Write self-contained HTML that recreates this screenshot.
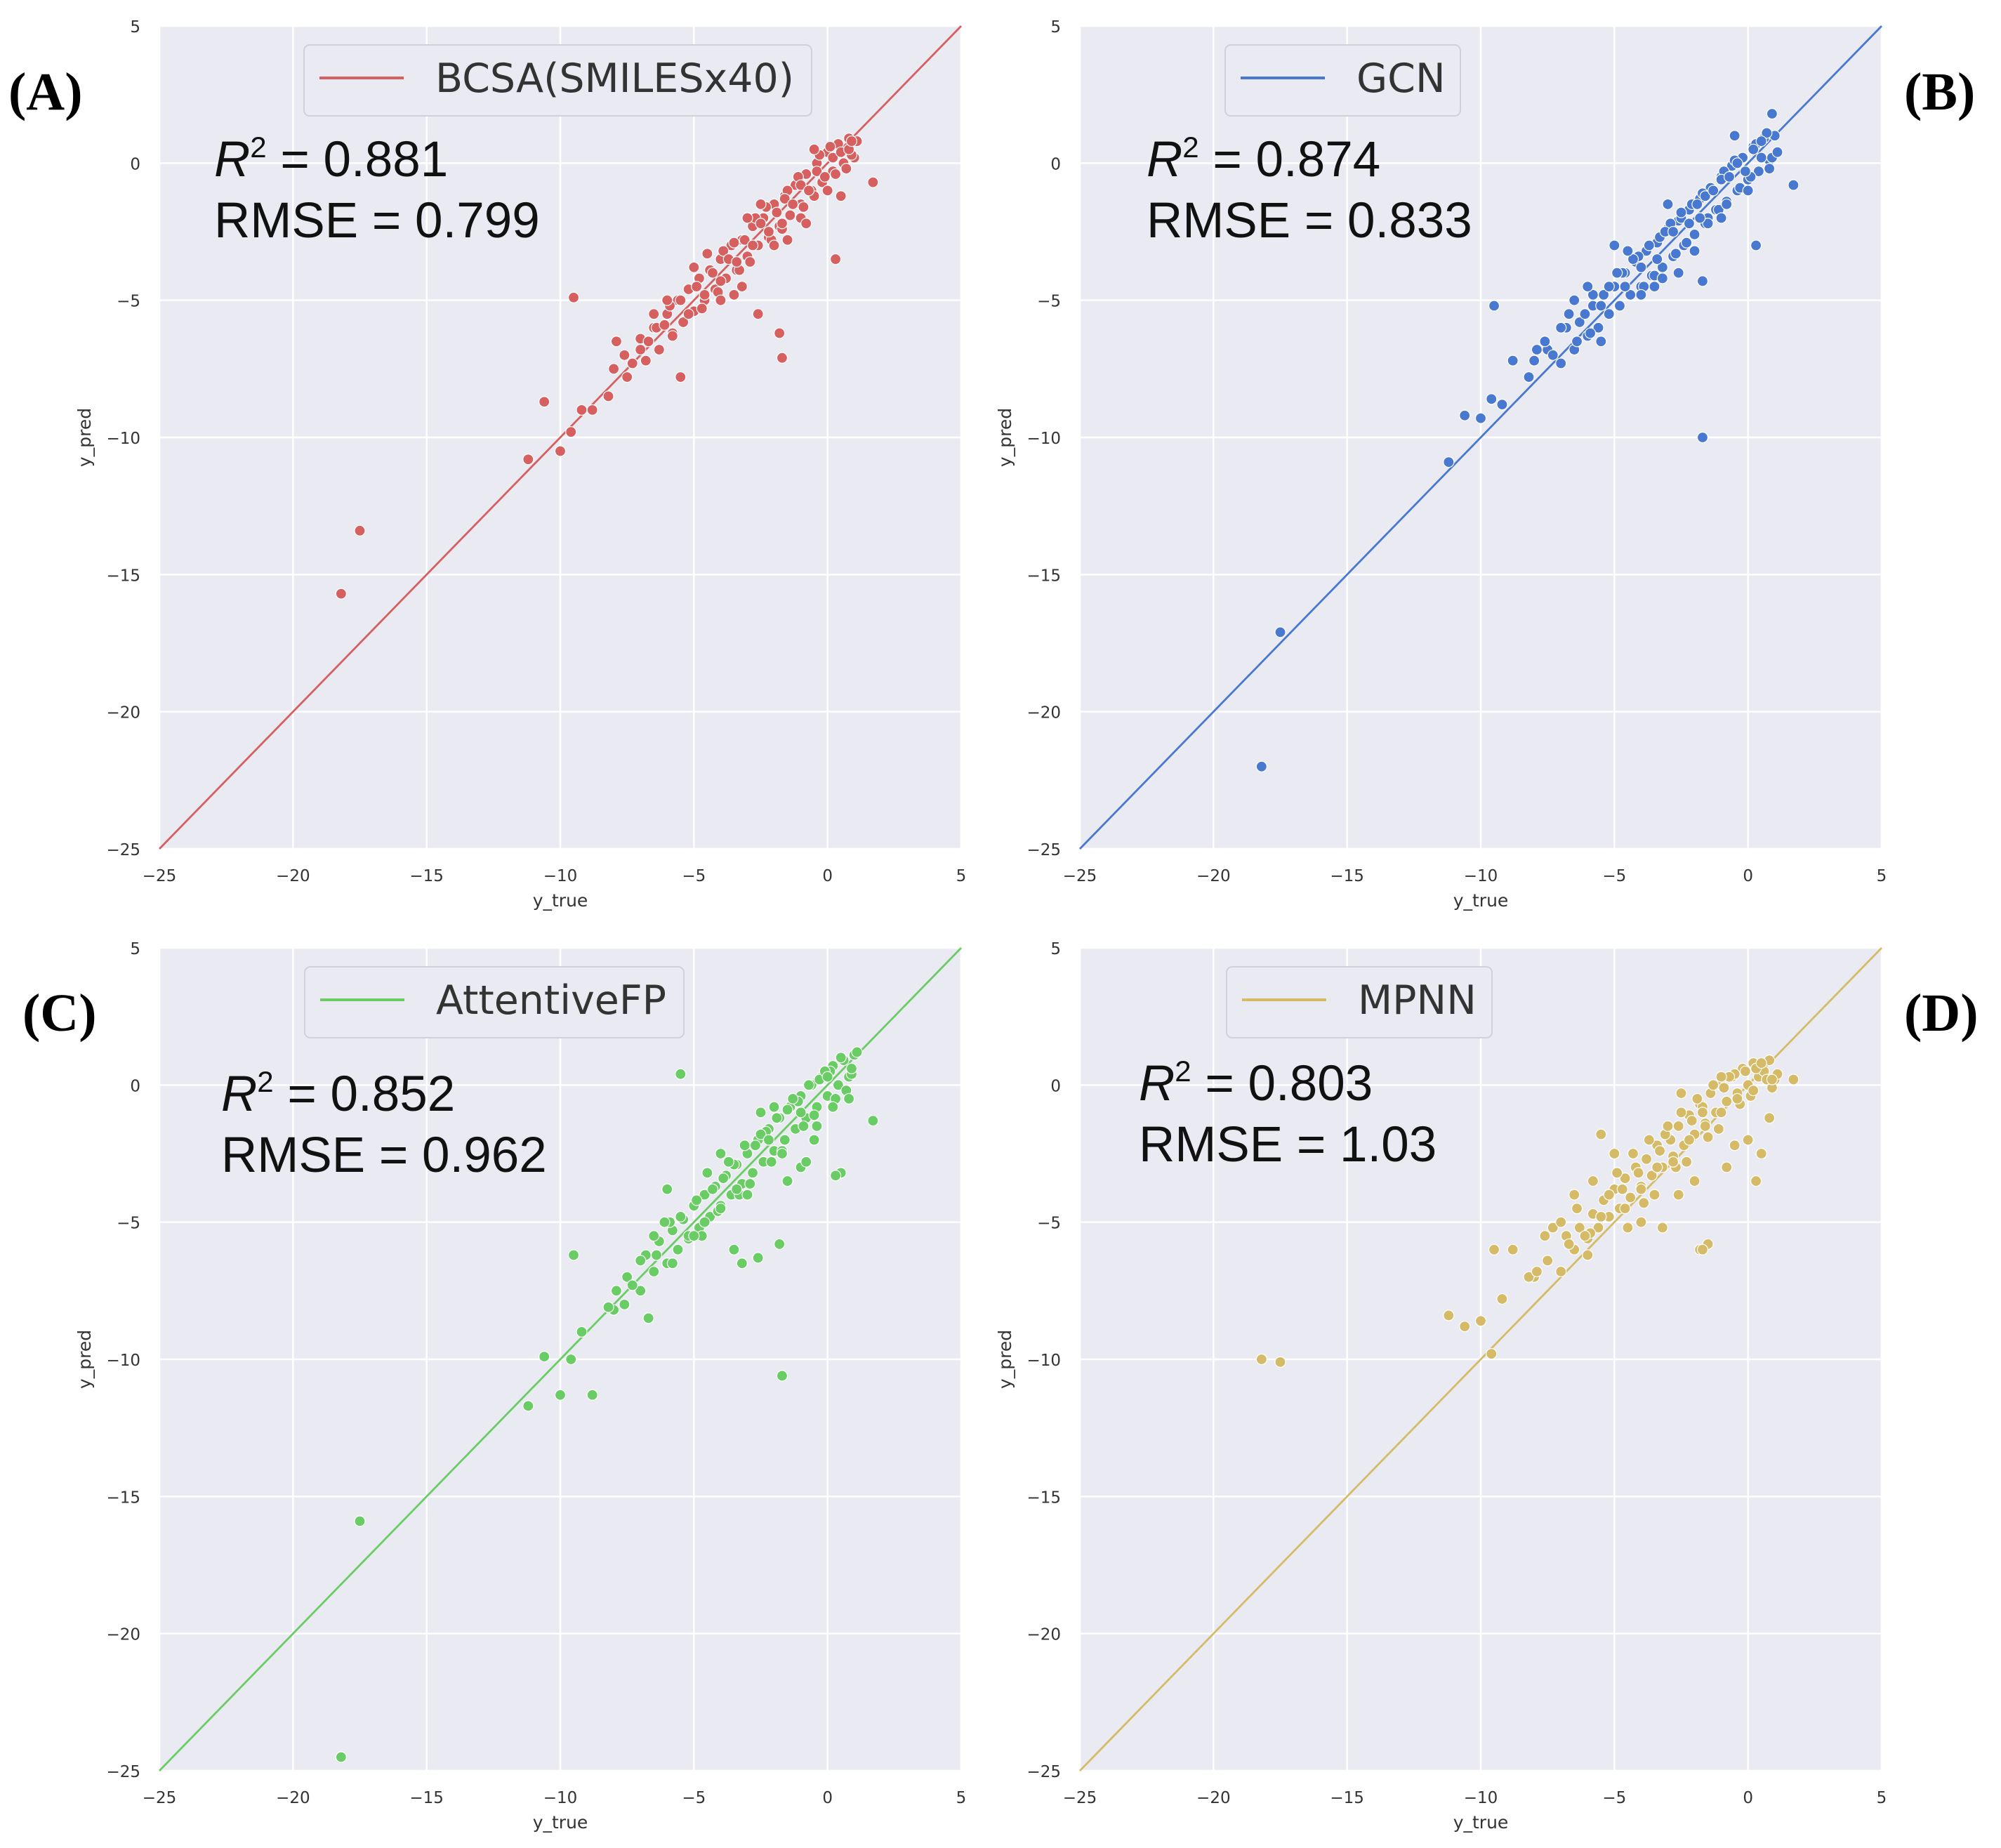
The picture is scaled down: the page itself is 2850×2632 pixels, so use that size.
<!DOCTYPE html>
<html><head><meta charset="utf-8">
<style>html,body{margin:0;padding:0;background:#fff}svg{display:block}</style>
</head><body>
<svg id="fig" xmlns="http://www.w3.org/2000/svg" width="2850" height="2632" viewBox="0 0 2850 2632"></svg>
<script>
const trueVals=[-11.2,-10.6,-10.0,-9.6,-9.2,-8.8,-8.2,-7.9,-7.6,-7.3,-7.0,-6.7,-6.4,-6.1,-5.8,-5.5,-5.2,-4.9,-4.6,-4.3,-4.0,-3.7,-3.4,-3.1,-2.8,-2.5,-2.2,-1.9,-1.6,-1.3,-1.0,-0.7,-0.4,-0.1,0.2,0.5,0.8,1.1,1.7,-6.0,-5.0,-4.0,-3.0,-2.0,-1.0,0.0,-5.5,-4.5,-3.5,-2.5,-1.5,-0.5,0.5,-6.5,-3.2,-2.6,-1.8,-0.8,0.3,-9.5,-1.7,0.9,-18.2,-17.5,-1.7];
const predA=[-10.8,-8.7,-10.5,-9.8,-9.0,-9.0,-8.5,-6.5,-7.0,-7.3,-6.8,-6.5,-6.0,-5.9,-6.3,-5.0,-5.5,-4.5,-4.8,-4.0,-4.3,-3.5,-3.6,-2.8,-3.0,-2.2,-2.5,-1.8,-1.3,-1.5,-0.8,-1.0,-0.3,-0.5,0.2,0.4,0.5,0.8,-0.7,-5.0,-3.8,-5.0,-2.0,-3.0,-2.0,-1.0,-7.8,-3.3,-4.8,-1.5,-2.8,0.5,-1.2,-5.5,-4.5,-5.5,-6.2,-2.2,-3.5,-4.9,-7.1,0.8,-15.7,-13.4,-2.2];
const predB=[-10.9,-9.2,-9.3,-8.6,-8.8,-7.2,-7.8,-6.8,-6.5,-7.0,-6.0,-5.5,-6.5,-5.5,-4.8,-5.2,-4.5,-4.0,-4.5,-3.5,-3.8,-3.0,-3.5,-2.5,-2.5,-2.0,-2.2,-1.5,-1.2,-1.0,-0.6,-0.5,0.0,-0.3,0.5,0.2,-0.2,0.4,-0.8,-4.5,-3.0,-4.8,-1.5,-3.2,-2.0,-1.0,-6.5,-3.2,-4.5,-1.8,-2.2,1.0,0.8,-5.0,-4.2,-4.0,-2.0,-1.5,-3.0,-5.2,-10.0,1.8,-22.0,-17.1,-4.3];
const predC=[-11.7,-9.9,-11.3,-10.0,-9.0,-11.3,-8.1,-7.5,-8.0,-7.3,-6.4,-8.5,-6.2,-5.0,-6.5,-4.8,-5.5,-4.2,-5.0,-3.8,-4.5,-2.8,-3.8,-2.2,-3.2,-1.8,-2.0,-1.2,-2.0,-0.5,-1.0,0.0,-1.5,0.5,-0.8,1.0,-0.5,1.2,-1.3,-3.8,-5.5,-2.5,-4.0,-0.8,-3.0,0.3,0.4,-3.2,-6.0,-1.0,-3.5,-2.0,-3.2,-5.5,-6.5,-6.3,-5.8,-2.8,-3.3,-6.2,-10.6,0.6,-24.5,-15.9,-2.5];
const predD=[-8.4,-8.8,-8.6,-9.8,-7.8,-6.0,-7.0,-6.8,-5.5,-5.2,-5.0,-5.8,-4.5,-5.5,-3.5,-4.8,-4.0,-3.2,-4.5,-2.5,-3.8,-2.0,-3.0,-1.8,-2.8,-1.0,-2.0,-0.5,-1.5,0.0,-1.0,0.3,-0.5,0.5,-0.2,0.8,-1.2,0.4,0.2,-6.2,-2.5,-5.0,-1.5,-3.5,0.3,-2.0,-1.8,-5.2,-4.0,-0.3,-5.8,-2.2,-2.5,-4.0,-5.2,-4.0,-6.0,-3.0,-3.5,-6.0,-6.0,0.2,-10.0,-10.1,-1.0];
const trueVals2=[-8.0,-7.5,-7.0,-6.8,-6.5,-6.3,-6.0,-5.8,-5.6,-5.4,-5.2,-5.0,-4.8,-4.6,-4.4,-4.2,-4.0,-3.8,-3.6,-3.4,-3.2,-3.0,-2.8,-2.6,-2.4,-2.2,-2.0,-1.8,-1.6,-1.4,-1.2,-1.0,-0.8,-0.6,-0.4,-0.2,0.0,0.2,0.4,0.6,0.8,1.0,-5.9,-4.7,-3.9,-3.3,-2.7,-2.1,-1.5,-0.9,-0.3,0.3,0.9,-4.1,-3.5,-2.9,-2.3,-1.7,-1.1,-0.5,0.1,0.7];
const predA2=[-7.5,-7.8,-6.4,-7.2,-6.0,-6.8,-5.5,-6.2,-5.0,-5.8,-4.6,-5.4,-4.2,-5.0,-3.9,-4.6,-3.5,-4.2,-3.0,-3.9,-2.8,-3.4,-2.3,-3.0,-2.0,-2.7,-1.5,-2.3,-1.2,-1.9,-0.8,-1.5,-0.4,-1.0,0.0,-0.7,0.4,-0.3,0.7,0.0,0.9,0.2,-5.2,-5.3,-3.2,-3.9,-2.0,-2.8,-1.0,-1.6,0.3,-0.4,0.3,-4.7,-2.9,-3.6,-1.6,-2.4,-0.5,-1.2,0.6,-0.2];
const predB2=[-7.2,-6.8,-7.3,-6.0,-6.8,-5.8,-6.3,-5.2,-6.0,-4.8,-5.5,-4.5,-5.2,-4.0,-4.8,-3.6,-4.5,-3.2,-4.1,-2.9,-3.8,-2.4,-3.4,-2.1,-3.0,-1.7,-2.6,-1.3,-2.2,-0.9,-1.7,-0.5,-1.4,-0.1,-1.0,0.2,-0.6,0.6,-0.3,0.9,0.1,1.0,-6.2,-4.0,-4.5,-2.7,-3.3,-1.5,-2.0,-0.3,-0.9,0.7,0.2,-3.4,-4.1,-2.2,-2.9,-1.1,-1.7,0.1,-0.5,1.1];
const predC2=[-8.2,-7.0,-7.5,-6.2,-6.8,-5.7,-6.5,-5.3,-6.0,-4.9,-5.6,-4.4,-5.2,-4.0,-4.8,-3.7,-4.4,-3.3,-4.0,-2.9,-3.6,-2.5,-3.2,-2.0,-2.8,-1.6,-2.4,-1.2,-2.0,-0.8,-1.6,-0.4,-1.2,0.0,-0.8,0.3,-0.4,0.7,0.0,0.9,0.3,1.1,-5.0,-5.5,-3.4,-4.0,-2.2,-2.8,-0.9,-1.5,0.2,-0.5,0.4,-4.6,-2.9,-3.6,-1.7,-2.4,-0.6,-1.1,0.5,-0.2];
const predD2=[-7.0,-6.4,-6.8,-5.5,-6.0,-5.2,-5.6,-4.7,-5.2,-4.2,-4.8,-3.8,-4.5,-3.4,-4.1,-3.0,-3.7,-2.7,-3.3,-2.2,-3.0,-1.9,-2.6,-1.5,-2.2,-1.1,-1.8,-0.7,-1.4,-0.3,-1.0,0.0,-0.6,0.3,-0.3,0.6,0.0,0.8,0.3,0.5,0.9,0.2,-5.4,-3.8,-4.3,-2.4,-3.0,-1.3,-1.9,-0.1,-0.7,0.6,-0.1,-3.2,-4.0,-2.0,-2.8,-0.8,-1.6,0.4,-0.4,0.2];
const tickVals=[-25,-20,-15,-10,-5,0,5];
const modelNames=["BCSA(SMILESx40)","GCN","AttentiveFP","MPNN"];
const r2Labels=["0.881","0.874","0.852","0.803"];
const rmseLabels=["0.799","0.833","0.962","1.03"];

const NS="http://www.w3.org/2000/svg";
const svg=document.getElementById('fig');
function mk(tag,attrs,parent){const e=document.createElementNS(NS,tag);for(const k in attrs)e.setAttribute(k,attrs[k]);(parent||svg).appendChild(e);return e;}
const panels=[
 {x0:227,y0:37,color:'#d65f5f',preds:predA,preds2:predA2,leg:[433,1156],ann:[305,251,338],lab:'(A)',lx:12,ly:156},
 {x0:1538,y0:37,color:'#4878d0',preds:predB,preds2:predB2,leg:[1745,2080],ann:[1633,251,338],lab:'(B)',lx:2712,ly:156},
 {x0:227,y0:1350,color:'#6acc64',preds:predC,preds2:predC2,leg:[434,974],ann:[315,1582,1669],lab:'(C)',lx:32,ly:1468},
 {x0:1538,y0:1350,color:'#d5bb67',preds:predD,preds2:predD2,leg:[1747,2125],ann:[1622,1567,1654],lab:'(D)',lx:2712,ly:1468}
];
const W=1142,H=1172;
panels.forEach((p,i)=>{
 const g=mk('g',{});
 
 
 const sx=v=>p.x0+(v+25)/30*W, sy=v=>p.y0+H-(v+25)/30*H;
 const bg=mk('rect',{x:p.x0,y:p.y0,width:W,height:H,fill:'#eaeaf2'},g);
 
 
 tickVals.forEach(t=>{
  const gx=mk('line',{x1:sx(t),x2:sx(t),y1:p.y0,y2:p.y0+H,stroke:'#fff','stroke-width':2.5},g);
  
  
  const gy=mk('line',{x1:p.x0,x2:p.x0+W,y1:sy(t),y2:sy(t),stroke:'#fff','stroke-width':2.5},g);
  
  
  const tx=mk('text',{x:sx(t),y:p.y0+H+46,'text-anchor':'middle','font-size':23,fill:'#333','font-family':'DejaVu Sans, Liberation Sans, sans-serif'},g);
  tx.textContent=(t<0?'\u2212'+(-t):t);
  
  
  const ty=mk('text',{x:p.x0-27,y:sy(t)+9,'text-anchor':'end','font-size':23,fill:'#333','font-family':'DejaVu Sans, Liberation Sans, sans-serif'},g);
  ty.textContent=(t<0?'\u2212'+(-t):t);
  
  
 });
 const xt=mk('text',{x:p.x0+W/2,y:p.y0+H+82,'text-anchor':'middle','font-size':25,fill:'#333','font-family':'DejaVu Sans, Liberation Sans, sans-serif'},g);
 xt.textContent='y_true';
 
 
 const yt=mk('text',{x:0,y:0,'text-anchor':'middle','font-size':25,fill:'#333','font-family':'DejaVu Sans, Liberation Sans, sans-serif',transform:`translate(${p.x0-98},${p.y0+H/2}) rotate(-90)`},g);
 yt.textContent='y_pred';
 
 
 const dl=mk('line',{x1:sx(-25),y1:sy(-25),x2:sx(5),y2:sy(5),stroke:p.color,'stroke-width':2.8},g);
 
 
 const drawPts=(tv,pv)=>{
  const n=Math.min(tv.length,pv.length);
  for(let k=0;k<n;k++){
   const c=mk('circle',{cx:sx(tv[k]),cy:sy(pv[k]),r:7.5,fill:p.color,stroke:'#fff','stroke-width':1.2},g);
   
   
  }
 };
 drawPts(trueVals2,p.preds2);
 drawPts(trueVals,p.preds);
 const lg=mk('g',{},g);
 
 
 mk('rect',{x:p.leg[0],y:p.y0+27,width:p.leg[1]-p.leg[0],height:101,rx:8,fill:'#eaeaf2',stroke:'#d0d0d8','stroke-width':2},lg);
 mk('line',{x1:p.leg[0]+22,x2:p.leg[0]+142,y1:p.y0+74,y2:p.y0+74,stroke:p.color,'stroke-width':4},lg);
 const lt=mk('text',{x:p.leg[0]+187,y:p.y0+94,'font-size':57,fill:'#333','font-family':'DejaVu Sans, Liberation Sans, sans-serif'},lg);
 lt.textContent=modelNames[i];
 const a1=mk('text',{x:p.ann[0],y:p.ann[1],'font-size':71,fill:'#111','font-family':'Liberation Sans, sans-serif'},g);
 a1.innerHTML='<tspan font-style="italic">R</tspan><tspan font-size="42" dy="-27">2</tspan><tspan dy="27"> = '+r2Labels[i]+'</tspan>';
 
 
 const a2=mk('text',{x:p.ann[0],y:p.ann[2],'font-size':71,fill:'#111','font-family':'Liberation Sans, sans-serif'},g);
 a2.textContent='RMSE = '+rmseLabels[i];
 
 
 const pl=mk('text',{x:p.lx,y:p.ly,'font-size':76,'font-weight':'bold',fill:'#000','font-family':'Liberation Serif, serif'});
 pl.textContent=p.lab;
 
 
});
</script>
</body></html>
